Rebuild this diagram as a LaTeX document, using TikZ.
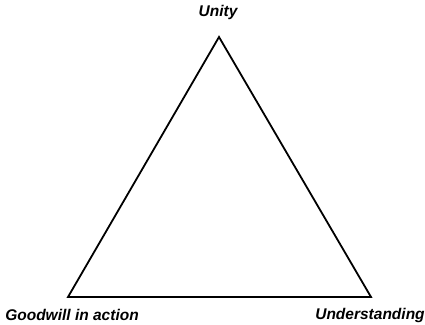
\documentclass[tikz,border=0pt]{standalone}
\usepackage{fontspec}
\setmainfont{Liberation Sans}
\usetikzlibrary{positioning}

\begin{document}
\begin{tikzpicture}[
    x=1pt, y=-1pt,
    corner/.style={inner sep=0pt, minimum size=0pt},
    lbl/.style={font=\fontsize{15.5}{18}\selectfont\bfseries\itshape, inner sep=0pt}
]
\useasboundingbox (0,0) rectangle (425,324);
\coordinate (top) at (219,37);
\coordinate (left) at (68,297);
\coordinate (right) at (371,297);
\draw[line width=1.8pt, line join=miter] (top) -- (left) -- (right) -- cycle;
\node[lbl] (unity) at (218,12) {Unity};
\node[lbl] (goodwill) at (72,315) {Goodwill in action};
\node[lbl] (understanding) at (370,315) {Understanding};
\end{tikzpicture}
\end{document}
